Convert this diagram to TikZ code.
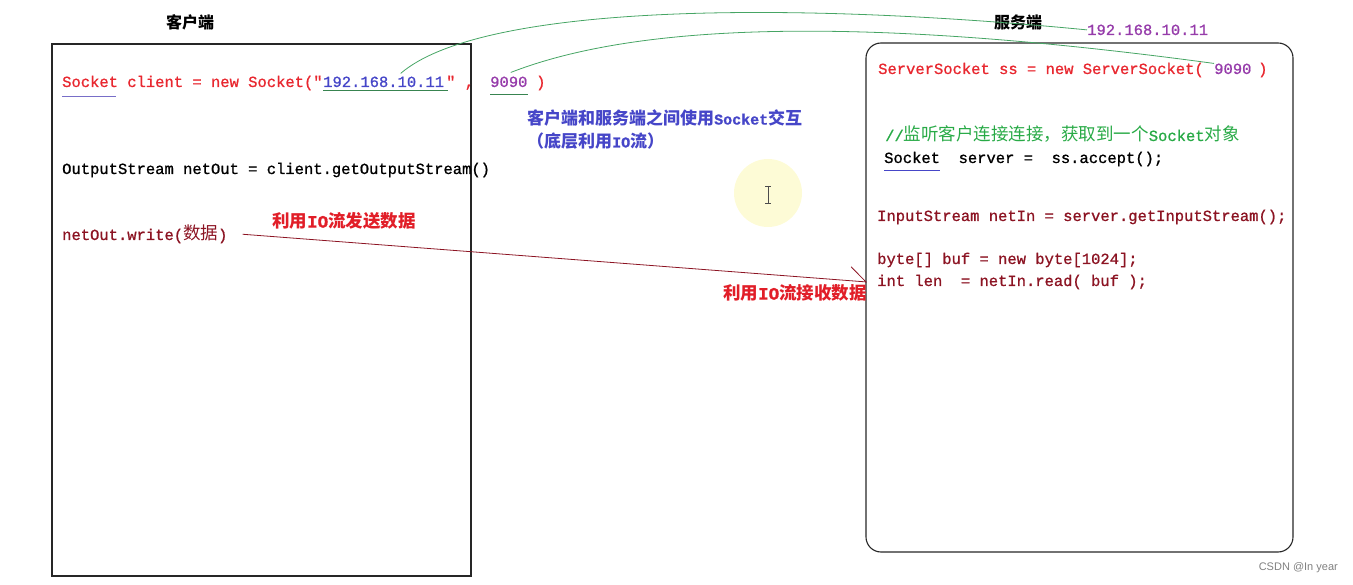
\documentclass[tikz,border=0pt]{standalone}
\usepackage{fontspec}
\newfontfamily\cjk{Noto Sans CJK SC}
\newfontfamily\mono[FakeBold=1]{Liberation Mono}
\newfontfamily\wmfont{Liberation Sans}
\usepackage{tikz}
\usetikzlibrary{arrows.meta, calc}
\usepackage{xcolor}
\definecolor{codered}{RGB}{232, 40, 48}
\definecolor{darkcode}{RGB}{140, 20, 35}
\definecolor{notered}{RGB}{225, 30, 40}
\definecolor{ippurple}{RGB}{150, 60, 170}
\definecolor{noteblue}{RGB}{70, 70, 200}
\definecolor{commentgreen}{RGB}{40, 170, 70}
\definecolor{linkgreen}{RGB}{70, 165, 100}
\definecolor{ulblue}{RGB}{120, 110, 200}
\definecolor{hilite}{RGB}{253, 251, 214}
\newcommand{\codesize}{\fontsize{15.5}{18}\selectfont}
\newcommand{\cjkcode}[1]{{\cjk\fontsize{17.5}{18}\selectfont #1}}

\begin{document}
\begin{tikzpicture}[x=1pt, y=-1pt,
    code/.style={anchor=base west, inner sep=0pt, font=\mono\codesize},
    title/.style={inner sep=0pt, font=\cjk\bfseries\fontsize{16}{18}\selectfont},
    note/.style={anchor=west, inner sep=0pt, font=\cjk\bfseries\fontsize{17}{20}\selectfont},
    bignote/.style={anchor=west, inner sep=0pt, text=notered, font=\cjk\bfseries\fontsize{17.5}{21}\selectfont},
    panel/.style={rectangle, draw=black!85, line width=1.1pt, inner sep=0pt},
    link/.style={draw=linkgreen, line width=0.8pt},
    uline/.style={line width=1pt},
]
\useasboundingbox (0,0) rectangle (1353,585);

% highlight of the mouse pointer
\fill[hilite] (768,193) circle (34);
\draw[gray!60!black, line width=0.8pt] (768,186) -- (768,203) (765,186) -- (771,186) (765,203) -- (771,203);

% the two sides
\node[panel, minimum width=419pt, minimum height=532pt] (clibox) at (261.5,310) {};
\node[panel, rounded corners=15pt, minimum width=427pt, minimum height=509pt] (srvbox) at (1079.5,297.5) {};

\node[title] (clititle) at (190,22) {客户端};
\node[title] (srvtitle) at (1018,22) {服务端};

% client code
\node[code, text=codered] (clisock)  at (62,87)  {Socket client = new Socket("};
\node[code, text=noteblue] (cliip)   at (323,87) {192.168.10.11};
\node[code, text=codered] (clicomma) at (446,87) {"~,};
\node[code, text=ippurple] (cliport) at (490,87) {9090};
\node[code, text=codered] (cliparen) at (536,87) {)};

\node[code] (cliout) at (62,174) {OutputStream netOut = client.getOutputStream()};
\node[code, text=darkcode] (cliwrite) at (62,240) {netOut.write(\cjkcode{数据})};

% server code
\node[code, text=codered] (srvnew)   at (878,74)  {ServerSocket ss = new ServerSocket(};
\node[code, text=ippurple] (srvport) at (1214,74) {9090};
\node[code, text=codered] (srvparen) at (1258,74) {)};
\node[code, text=ippurple] (srvip)   at (1087,35) {192.168.10.11};

\node[code, text=commentgreen] (srvcomment) at (885,141) {//\cjkcode{监听客户连接连接，获取到一个}Socket\cjkcode{对象}};
\node[code] (srvaccept) at (884,163) {Socket~~server~=~~ss.accept();};
\node[code, text=darkcode] (srvin)   at (877,221) {InputStream netIn = server.getInputStream();};
\node[code, text=darkcode] (srvbuf)  at (877,264) {byte[] buf = new byte[1024];};
\node[code, text=darkcode] (srvread) at (877,286) {int len~~= netIn.read( buf );};

% notes
\node[note, text=noteblue] (socknote) at (527,118) {客户端和服务端之间使用{\mono\fontsize{15}{18}\selectfont Socket}交互};
\node[note, text=noteblue] (ionote)   at (527,141) {（底层利用{\mono\fontsize{15}{18}\selectfont IO}流）};
\node[bignote] (sendnote) at (272,221) {利用{\mono IO}流发送数据};
\node[bignote] (recvnote) at (723,293) {利用{\mono IO}流接收数据};

% underlines
\draw[uline, ulblue] ($(clisock.base west)+(0,10)$) -- ++(54,0);
\draw[uline, linkgreen!80!black] ($(cliip.base west)+(0,4)$) -- ($(cliip.base east)+(4,4)$);
\draw[uline, linkgreen!80!black] ($(cliport.base west)+(0,8)$) -- ($(cliport.base east)+(0,8)$);
\draw[uline, noteblue] ($(srvaccept.base west)+(0,8)$) -- ++(56,0);

% ip and port go over to the server
\draw[link] ($(cliip.north)+(17,-3)$) .. controls (480,5) and (780,0) .. (srvip.west);
\draw[link] ($(cliport.north)+(2,-4)$) .. controls (620,30) and (820,10) .. (srvport.north west);

% data sent through the stream
\draw[darkcode, line width=0.8pt, -{Straight Barb[left, length=16pt, width=28pt]}]
    ($(cliwrite.east)+(15,0)$) -- ($(srvread.west)+(-10,0)$);

\node[anchor=east, inner sep=0pt, text=gray, font=\wmfont\fontsize{11}{13}\selectfont] (wmark) at (1338,568) {CSDN @In year};

\end{tikzpicture}
\end{document}
